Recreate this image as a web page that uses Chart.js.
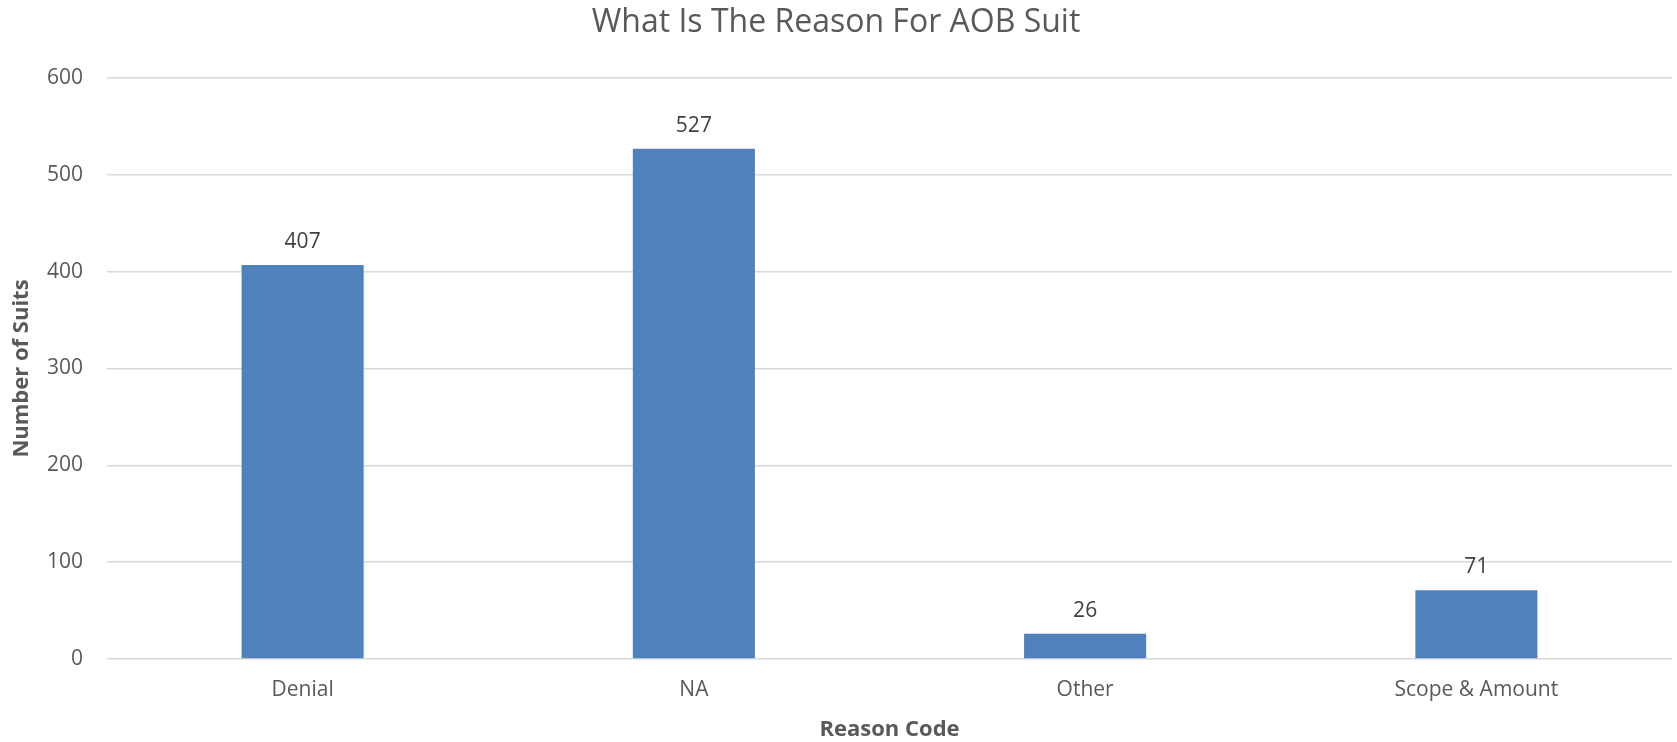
<!DOCTYPE html>
<html>
<head>
<meta charset="utf-8">
<script src="https://cdn.jsdelivr.net/npm/chart.js@4/dist/chart.umd.min.js"></script>
<style>
    html, body { margin: 0; padding: 0; background: #fff; }
    #wrap { width: 1677px; height: 742px; }
</style>
</head>
<body>
<div id="wrap"><canvas id="chart" width="1677" height="742"></canvas></div>
<script>
// Chart data
const categories = ['Denial', 'NA', 'Other', 'Scope & Amount'];
const suitCounts = [407, 527, 26, 71];
const yTicks = [0, 100, 200, 300, 400, 500, 600];

const FONT = '"Open Sans", "Noto Sans", sans-serif';

// Draw value labels above each bar
const barLabels = {
    id: 'barLabels',
    afterDatasetsDraw(chart) {
        const ctx = chart.ctx;
        const meta = chart.getDatasetMeta(0);
        ctx.save();
        ctx.font = '21px ' + FONT;
        ctx.fillStyle = '#404040';
        ctx.textAlign = 'center';
        ctx.textBaseline = 'alphabetic';
        meta.data.forEach((bar, i) => {
            ctx.fillText(String(suitCounts[i]), bar.x, bar.y - 17);
        });
        ctx.restore();
    }
};

new Chart(document.getElementById('chart'), {
    type: 'bar',
    data: {
        labels: categories,
        datasets: [{
            label: 'Number of Suits',
            data: suitCounts,
            backgroundColor: '#4f81bd',
            borderColor: '#4f81bd',
            borderWidth: 0,
            categoryPercentage: 1,
            barPercentage: 0.312
        }]
    },
    options: {
        responsive: false,
        animation: false,
        layout: { padding: { left: 0, right: 5, top: 0, bottom: 0 } },
        plugins: {
            legend: { display: false },
            tooltip: { enabled: false },
            title: {
                display: true,
                text: 'What Is The Reason For AOB Suit',
                color: '#595959',
                font: { family: FONT, size: 32, weight: 'normal' },
                padding: { top: 4, bottom: 35.6 }
            }
        },
        scales: {
            x: {
                grid: { display: false, drawTicks: false },
                border: { display: false },
                ticks: {
                    color: '#595959',
                    font: { family: FONT, size: 21 },
                    padding: 18
                },
                title: {
                    display: true,
                    text: 'Reason Code',
                    color: '#595959',
                    font: { family: FONT, size: 22, weight: 'bold', lineHeight: 1.1 },
                    padding: 0
                },
                afterFit(scale) { scale.height = 83; }
            },
            y: {
                min: 0,
                max: 600,
                afterBuildTicks(scale) { scale.ticks = yTicks.map(v => ({ value: v })); },
                grid: { color: '#d9d9d9', lineWidth: 1.5, drawTicks: false },
                border: { display: false },
                ticks: {
                    color: '#595959',
                    font: { family: FONT, size: 21 },
                    padding: 24
                },
                title: {
                    display: true,
                    text: 'Number of Suits',
                    color: '#595959',
                    font: { family: FONT, size: 22, weight: 'bold', lineHeight: 1.1 },
                    padding: { top: 10, bottom: 0 }
                },
                afterFit(scale) { scale.width = 107; }
            }
        }
    },
    plugins: [barLabels]
});
</script>
</body>
</html>
